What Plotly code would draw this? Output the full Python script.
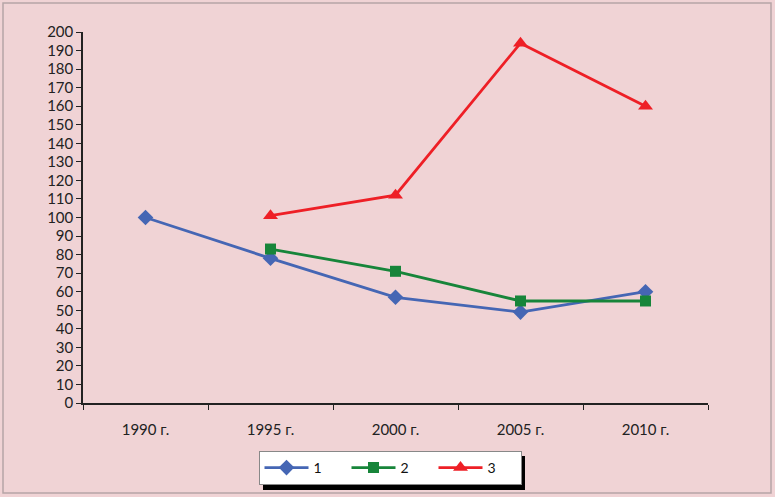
import plotly.graph_objects as go

categories = ["1990 г.", "1995 г.", "2000 г.", "2005 г.", "2010 г."]
series1 = [100, 78, 57, 49, 60]
series2 = [None, 83, 71, 55, 55]
series3 = [None, 101, 112, 194, 160]
names = ["1", "2", "3"]
y_ticks = list(range(0, 201, 10))

BG = "#F0D3D5"
fig = go.Figure()
styles = [
    ("#4566B4", "diamond", 12),
    ("#17853A", "square", 11),
    ("#EE1F26", "triangle-up", 13),
]
for vals, name, (col, sym, sz) in zip([series1, series2, series3], names, styles):
    fig.add_trace(go.Scatter(
        x=categories, y=vals, name=name, mode="lines+markers",
        line=dict(color=col, width=2.8),
        marker=dict(symbol=sym, size=sz, color=col),
        connectgaps=False,
    ))

W, H = 775, 497
L, R, T, B = 83, 67, 32, 94
pw, ph = W - L - R, H - T - B

def px_x(p):
    return (p - L) / pw

def px_y(p):
    return (H - B - p) / ph

fig.update_layout(
    width=W, height=H,
    paper_bgcolor=BG, plot_bgcolor=BG,
    margin=dict(l=L, r=R, t=T, b=B),
    font=dict(family="Lato, Open Sans, sans-serif", size=15, color="#222222"),
    showlegend=True,
    legend=dict(
        orientation="h", x=px_x(390), y=px_y(451), xanchor="center", yanchor="top",
        bgcolor="white", bordercolor="#888888", borderwidth=1,
        font=dict(size=14, color="#111111"),
        entrywidth=28, entrywidthmode="pixels",
        itemwidth=44,
    ),
    xaxis=dict(
        type="category", showgrid=False, showline=True, linecolor="#222222", linewidth=1.5,
        ticks="outside", tickson="boundaries", ticklen=5, tickcolor="#222222",
        range=[-0.5, 4.5], zeroline=False, ticklabelstandoff=12,
    ),
    yaxis=dict(
        range=[0, 200], tickvals=y_ticks, showgrid=False, showline=True,
        linecolor="#222222", linewidth=1.5, ticks="outside", ticklen=5,
        tickcolor="#222222", zeroline=False,
    ),
    shapes=[
        dict(type="rect", xref="paper", yref="paper",
             x0=px_x(263), x1=px_x(525), y0=px_y(490), y1=px_y(456),
             fillcolor="black", line=dict(width=0), layer="below"),
        dict(type="rect", xref="paper", yref="paper",
             x0=px_x(3), x1=px_x(771), y0=px_y(493), y1=px_y(3),
             fillcolor="rgba(0,0,0,0)", line=dict(color="#B5A5A6", width=1.5)),
    ],
)
fig.write_html(
    "out.html",
    config={"displayModeBar": False},
    post_script="document.body.style.margin='0';document.body.style.background='" + BG + "';",
)
